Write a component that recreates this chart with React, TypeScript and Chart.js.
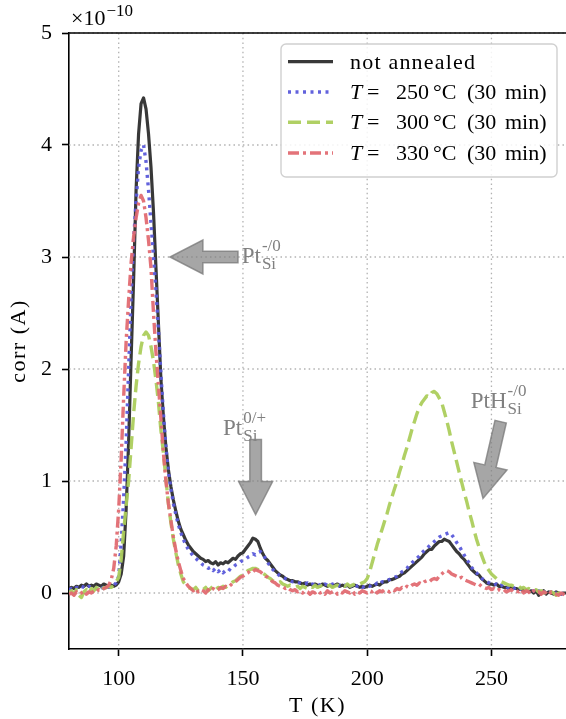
import React, { useEffect, useRef } from "react";
import { Chart, registerables } from "chart.js";

Chart.register(...registerables);

// Temperature axis (K)
const temps = [
  80, 81, 82, 83, 84, 85, 86, 87, 88, 89,
  90, 91, 92, 93, 94, 95, 96, 97, 98, 99,
  100, 101, 102, 103, 104, 105, 106, 107, 108, 109,
  110, 111, 112, 113, 114, 115, 116, 117, 118, 119,
  120, 121, 122, 123, 124, 125, 126, 127, 128, 129,
  130, 131, 132, 133, 134, 135, 136, 137, 138, 139,
  140, 141, 142, 143, 144, 145, 146, 147, 148, 149,
  150, 151, 152, 153, 154, 155, 156, 157, 158, 159,
  160, 161, 162, 163, 164, 165, 166, 167, 168, 169,
  170, 171, 172, 173, 174, 175, 176, 177, 178, 179,
  180, 181, 182, 183, 184, 185, 186, 187, 188, 189,
  190, 191, 192, 193, 194, 195, 196, 197, 198, 199,
  200, 201, 202, 203, 204, 205, 206, 207, 208, 209,
  210, 211, 212, 213, 214, 215, 216, 217, 218, 219,
  220, 221, 222, 223, 224, 225, 226, 227, 228, 229,
  230, 231, 232, 233, 234, 235, 236, 237, 238, 239,
  240, 241, 242, 243, 244, 245, 246, 247, 248, 249,
  250, 251, 252, 253, 254, 255, 256, 257, 258, 259,
  260, 261, 262, 263, 264, 265, 266, 267, 268, 269,
  270, 271, 272, 273, 274, 275, 276, 277, 278, 279,
  280,
];

// Currents in units of 1e-10 A
const notAnnealed = [
  0.04, 0.05, 0.04, 0.06, 0.05, 0.07, 0.06, 0.08, 0.06, 0.07,
  0.06, 0.08, 0.07, 0.06, 0.08, 0.07, 0.06, 0.07, 0.06, 0.07,
  0.1, 0.17, 0.33, 0.75, 1.35, 2.1, 2.8, 3.6, 4.1, 4.37,
  4.42, 4.32, 4.1, 3.8, 3.4, 2.9, 2.4, 1.9, 1.57, 1.3,
  1.1, 0.95, 0.83, 0.73, 0.64, 0.57, 0.52, 0.47, 0.43, 0.4,
  0.37, 0.35, 0.33, 0.31, 0.3, 0.28, 0.29, 0.27, 0.26, 0.28,
  0.25, 0.27, 0.26, 0.28, 0.27, 0.29, 0.31, 0.3, 0.33, 0.35,
  0.36, 0.39, 0.42, 0.45, 0.49, 0.48, 0.46, 0.4, 0.35, 0.31,
  0.29, 0.26, 0.23, 0.2, 0.18, 0.16, 0.15, 0.13, 0.12, 0.11,
  0.11, 0.1, 0.1, 0.09, 0.08, 0.09, 0.07, 0.08, 0.07, 0.08,
  0.07, 0.06, 0.08, 0.07, 0.06, 0.07, 0.06, 0.07, 0.08, 0.06,
  0.07, 0.06, 0.07, 0.05, 0.06, 0.07, 0.06, 0.05, 0.06, 0.05,
  0.06, 0.07, 0.06, 0.07, 0.08, 0.07, 0.09, 0.1, 0.1, 0.12,
  0.12, 0.13, 0.14, 0.15, 0.17, 0.18, 0.2, 0.22, 0.24, 0.26,
  0.28, 0.3, 0.32, 0.35, 0.37, 0.39, 0.39, 0.42, 0.44, 0.46,
  0.46, 0.48, 0.47, 0.46, 0.43, 0.4, 0.37, 0.35, 0.32, 0.3,
  0.27, 0.24, 0.21, 0.19, 0.17, 0.16, 0.13, 0.11, 0.09, 0.08,
  0.08, 0.07, 0.08, 0.06, 0.06, 0.05, 0.05, 0.04, 0.05, 0.04,
  0.04, 0.03, 0.04, 0.02, 0.03, 0.01, 0.02, 0.0, 0.02, -0.02,
  0.0, 0.02, -0.01, 0.01, 0.0, -0.01, 0.01, 0.0, -0.01, 0.0,
  0.0,
];

const anneal250 = [
  0.03, 0.04, 0.03, 0.05, 0.04, 0.06, 0.05, 0.04, 0.06, 0.05,
  0.05, 0.04, 0.06, 0.05, 0.04, 0.06, 0.05, 0.06, 0.07, 0.09,
  0.15, 0.45, 0.85, 1.35, 2.0, 2.65, 3.15, 3.5, 3.8, 3.95,
  4.0, 3.85, 3.6, 3.3, 3.0, 2.7, 2.35, 1.95, 1.6, 1.3,
  1.08, 0.93, 0.8, 0.7, 0.61, 0.54, 0.48, 0.43, 0.39, 0.36,
  0.33, 0.31, 0.29, 0.27, 0.25, 0.24, 0.22, 0.23, 0.2, 0.22,
  0.19, 0.21, 0.18, 0.2, 0.19, 0.22, 0.23, 0.25, 0.26, 0.28,
  0.29, 0.3, 0.32, 0.33, 0.35, 0.34, 0.36, 0.37, 0.35, 0.31,
  0.27, 0.24, 0.21, 0.19, 0.17, 0.15, 0.14, 0.13, 0.12, 0.11,
  0.1, 0.1, 0.09, 0.09, 0.08, 0.08, 0.09, 0.07, 0.08, 0.07,
  0.08, 0.07, 0.06, 0.08, 0.07, 0.06, 0.08, 0.07, 0.06, 0.07,
  0.06, 0.07, 0.06, 0.08, 0.05, 0.07, 0.06, 0.07, 0.05, 0.06,
  0.07, 0.06, 0.08, 0.07, 0.09, 0.08, 0.1, 0.1, 0.11, 0.12,
  0.13, 0.14, 0.15, 0.17, 0.19, 0.2, 0.22, 0.25, 0.27, 0.29,
  0.31, 0.33, 0.36, 0.38, 0.4, 0.42, 0.44, 0.46, 0.48, 0.5,
  0.51, 0.52, 0.53, 0.54, 0.52, 0.49, 0.45, 0.42, 0.38, 0.34,
  0.3, 0.27, 0.23, 0.2, 0.18, 0.15, 0.13, 0.12, 0.1, 0.09,
  0.08, 0.07, 0.08, 0.06, 0.07, 0.05, 0.06, 0.04, 0.05, 0.04,
  0.05, 0.03, 0.04, 0.03, 0.02, 0.03, 0.01, 0.02, 0.0, 0.02,
  0.01, -0.01, 0.02, 0.0, 0.01, -0.02, 0.0, 0.01, -0.01, 0.0,
  -0.01,
];

const anneal300 = [
  0.0, 0.02, -0.01, 0.03, -0.02, -0.04, 0.01, 0.03, 0.0, 0.04,
  0.02, 0.05, 0.03, 0.06, 0.04, 0.05, 0.06, 0.05, 0.07, 0.1,
  0.14, 0.3, 0.55, 0.78, 1.0, 1.3, 1.6, 1.85, 2.05, 2.2,
  2.3, 2.33, 2.3, 2.2, 2.07, 1.9, 1.7, 1.45, 1.25, 1.02,
  0.8, 0.63, 0.48, 0.36, 0.25, 0.17, 0.1, 0.07, 0.05, 0.04,
  0.03, 0.05, 0.02, 0.04, 0.03, 0.05, 0.02, 0.04, 0.06, 0.03,
  0.05, 0.04, 0.06, 0.05, 0.07, 0.08, 0.1, 0.11, 0.13, 0.15,
  0.16, 0.18, 0.2, 0.21, 0.22, 0.22, 0.21, 0.2, 0.18, 0.16,
  0.14, 0.13, 0.11, 0.1, 0.09, 0.1, 0.08, 0.07, 0.06, 0.07,
  0.06, 0.05, 0.06, 0.04, 0.06, 0.05, 0.04, 0.06, 0.05, 0.07,
  0.05, 0.06, 0.07, 0.05, 0.06, 0.07, 0.05, 0.06, 0.07, 0.06,
  0.07, 0.06, 0.08, 0.06, 0.07, 0.08, 0.07, 0.08, 0.09, 0.1,
  0.13, 0.19, 0.27, 0.35, 0.43, 0.5, 0.57, 0.64, 0.71, 0.79,
  0.86, 0.93, 1.0, 1.08, 1.15, 1.23, 1.3, 1.38, 1.46, 1.53,
  1.6, 1.66, 1.7, 1.73, 1.76, 1.75, 1.79, 1.8, 1.78, 1.74,
  1.7, 1.62, 1.54, 1.45, 1.35, 1.26, 1.17, 1.08, 0.99, 0.9,
  0.82, 0.73, 0.65, 0.56, 0.48, 0.41, 0.34, 0.28, 0.23, 0.2,
  0.17, 0.15, 0.13, 0.11, 0.1, 0.09, 0.08, 0.07, 0.07, 0.06,
  0.05, 0.06, 0.04, 0.05, 0.03, 0.04, 0.03, 0.02, 0.03, 0.01,
  0.02, 0.0, 0.01, -0.01, 0.01, 0.0, -0.02, 0.0, -0.01, -0.02,
  -0.01,
];

const anneal330 = [
  -0.01, 0.0, -0.02, 0.01, -0.01, 0.0, 0.02, -0.01, 0.01, 0.0,
  0.02, 0.01, 0.03, 0.02, 0.04, 0.05, 0.07, 0.12, 0.22, 0.42,
  0.75, 1.2, 1.75, 2.25, 2.62, 2.95, 3.18, 3.35, 3.48, 3.55,
  3.5, 3.35, 3.15, 2.9, 2.5, 2.15, 1.85, 1.55, 1.25, 1.0,
  0.8, 0.65, 0.5, 0.38, 0.28, 0.2, 0.13, 0.09, 0.06, 0.04,
  0.02, 0.04, 0.01, 0.03, 0.02, 0.0, 0.03, 0.01, 0.04, 0.02,
  0.03, 0.05, 0.04, 0.06, 0.05, 0.07, 0.09, 0.1, 0.12, 0.14,
  0.15, 0.17, 0.18, 0.2, 0.19, 0.21, 0.2, 0.19, 0.17, 0.15,
  0.14, 0.12, 0.1, 0.09, 0.07, 0.06, 0.06, 0.04, 0.05, 0.03,
  0.02, 0.03, 0.01, 0.02, 0.0, 0.02, 0.01, -0.01, 0.01, 0.0,
  0.02, 0.0, 0.01, -0.01, 0.02, 0.0, 0.01, 0.02, -0.01, 0.01,
  0.0, 0.02, 0.01, 0.0, 0.02, -0.01, 0.01, 0.0, 0.02, 0.01,
  0.0, 0.02, 0.01, 0.03, 0.0, 0.02, 0.01, 0.03, 0.02, 0.01,
  0.03, 0.02, 0.04, 0.03, 0.05, 0.04, 0.06, 0.05, 0.07, 0.08,
  0.07, 0.09, 0.08, 0.1, 0.11, 0.1, 0.12, 0.13, 0.12, 0.15,
  0.17, 0.19, 0.2, 0.19, 0.17, 0.16, 0.15, 0.13, 0.14, 0.12,
  0.11, 0.1, 0.09, 0.08, 0.07, 0.08, 0.06, 0.05, 0.04, 0.05,
  0.03, 0.04, 0.02, 0.03, 0.02, 0.03, 0.01, 0.02, 0.03, 0.01,
  0.02, 0.01, 0.03, 0.0, 0.02, 0.01, -0.01, 0.02, 0.0, 0.01,
  -0.01, 0.01, 0.0, -0.02, 0.01, 0.0, -0.01, -0.02, 0.0, -0.01,
  -0.02,
];

const xTicks = [100, 150, 200, 250];
const yTicks = [0, 1, 2, 3, 4, 5];
const annealTemps = ["250", "300", "330"];

// Annotation arrows (data coordinates)
const arrows = [
  { tail: [148, 3.0], tip: [120.6, 3.0] },
  { tail: [155.1, 1.37], tip: [155.1, 0.7] },
  { tail: [253.7, 1.53], tip: [246.6, 0.845] },
];
const peakLabels = [
  { at: [149.5, 2.95], main: "Pt", sub: "Si", sup: "-/0" },
  { at: [142.0, 1.41], main: "Pt", sub: "Si", sup: "0/+" },
  { at: [241.7, 1.65], main: "PtH", sub: "Si", sup: "-/0" },
];

const FONT = "'Liberation Serif', 'Times New Roman', serif";

const styles = [
  { color: "rgba(45,45,45,0.95)", dash: [] as number[], width: 3.2 },
  { color: "rgba(90,90,218,0.95)", dash: [3, 4.5], width: 3.4 },
  { color: "rgba(172,206,92,0.95)", dash: [13, 6], width: 3.4 },
  { color: "rgba(226,108,114,0.95)", dash: [11, 4, 3, 4], width: 3.4 },
];

const decor = {
  id: "decor",
  beforeDatasetsDraw(chart: any) {
    const { ctx, chartArea: a, scales } = chart;
    const x = scales.x, y = scales.y;
    ctx.save();
    ctx.strokeStyle = "rgba(170,170,170,0.9)";
    ctx.lineWidth = 1.3;
    ctx.setLineDash([1.5, 3.2]);
    for (const t of xTicks) {
      const px = x.getPixelForValue(t);
      ctx.beginPath(); ctx.moveTo(px, a.top); ctx.lineTo(px, a.bottom); ctx.stroke();
    }
    for (const v of yTicks) {
      const py = y.getPixelForValue(v);
      ctx.beginPath(); ctx.moveTo(a.left, py); ctx.lineTo(a.right, py); ctx.stroke();
    }
    ctx.restore();
  },
  afterDatasetsDraw(chart: any) {
    const { ctx, chartArea: a, scales } = chart;
    const x = scales.x, y = scales.y;
    ctx.save();
    // arrows
    for (const ar of arrows) {
      const tx = x.getPixelForValue(ar.tail[0]), ty = y.getPixelForValue(ar.tail[1]);
      const hx = x.getPixelForValue(ar.tip[0]), hy = y.getPixelForValue(ar.tip[1]);
      const dx = hx - tx, dy = hy - ty, len = Math.hypot(dx, dy);
      const ux = dx / len, uy = dy / len, nx = -uy, ny = ux;
      const H = 33, hw = 17, sw = 5.8;
      const bx = hx - ux * H, by = hy - uy * H;
      ctx.beginPath();
      ctx.moveTo(tx + nx * sw, ty + ny * sw);
      ctx.lineTo(bx + nx * sw, by + ny * sw);
      ctx.lineTo(bx + nx * hw, by + ny * hw);
      ctx.lineTo(hx, hy);
      ctx.lineTo(bx - nx * hw, by - ny * hw);
      ctx.lineTo(bx - nx * sw, by - ny * sw);
      ctx.lineTo(tx - nx * sw, ty - ny * sw);
      ctx.closePath();
      ctx.fillStyle = "rgba(128,128,128,0.7)";
      ctx.fill();
      ctx.strokeStyle = "rgba(120,120,120,0.75)";
      ctx.lineWidth = 1.5;
      ctx.setLineDash([]);
      ctx.stroke();
    }
    // labels
    ctx.fillStyle = "rgb(128,128,128)";
    ctx.textBaseline = "alphabetic";
    ctx.textAlign = "left";
    for (const lb of peakLabels) {
      const px = x.getPixelForValue(lb.at[0]), py = y.getPixelForValue(lb.at[1]);
      ctx.font = `23px ${FONT}`;
      ctx.fillText(lb.main, px, py);
      const w = ctx.measureText(lb.main).width;
      ctx.font = `17px ${FONT}`;
      ctx.fillText(lb.sub, px + w + 1, py + 6);
      ctx.fillText(lb.sup, px + w + 1, py - 12);
    }
    // top spine
    ctx.strokeStyle = "#000";
    ctx.lineWidth = 1.6;
    ctx.beginPath(); ctx.moveTo(a.left - 0.8, a.top); ctx.lineTo(a.right, a.top); ctx.stroke();

    // legend
    const lx = 281, ly = 44, lw = 276, lh = 133, r = 5;
    ctx.beginPath();
    ctx.moveTo(lx + r, ly);
    ctx.arcTo(lx + lw, ly, lx + lw, ly + lh, r);
    ctx.arcTo(lx + lw, ly + lh, lx, ly + lh, r);
    ctx.arcTo(lx, ly + lh, lx, ly, r);
    ctx.arcTo(lx, ly, lx + lw, ly, r);
    ctx.closePath();
    ctx.fillStyle = "rgba(255,255,255,0.85)";
    ctx.fill();
    ctx.strokeStyle = "rgb(208,208,208)";
    ctx.lineWidth = 1.4;
    ctx.stroke();
    const rows = [61.7, 92, 122.3, 153];
    rows.forEach((cy, i) => {
      const s = styles[i];
      ctx.strokeStyle = s.color;
      ctx.lineWidth = s.width;
      ctx.setLineDash(s.dash);
      ctx.beginPath(); ctx.moveTo(288, cy); ctx.lineTo(333, cy); ctx.stroke();
      ctx.setLineDash([]);
      ctx.fillStyle = "#000";
      const base = cy + 7;
      if (i === 0) {
        ctx.font = `22px ${FONT}`;
        (ctx as any).letterSpacing = "1.2px";
        ctx.fillText("not annealed", 350, base);
        (ctx as any).letterSpacing = "0px";
      } else {
        ctx.font = `italic 22px ${FONT}`;
        ctx.fillText("T", 350, base);
        ctx.font = `22px ${FONT}`;
        ctx.fillText("=", 367, base);
        ctx.fillText(annealTemps[i - 1], 396, base);
        ctx.fillText("°C", 433, base);
        ctx.fillText("(30", 467, base);
        ctx.fillText("min)", 505, base);
      }
    });
    ctx.restore();
  },
  afterDraw(chart: any) {
    const { ctx, chartArea: a } = chart;
    ctx.save();
    ctx.fillStyle = "#000";
    // offset text
    ctx.textBaseline = "alphabetic";
    ctx.textAlign = "left";
    ctx.font = `22px ${FONT}`;
    ctx.fillText("×10", 71, 25);
    const w = ctx.measureText("×10").width;
    ctx.font = `17px ${FONT}`;
    ctx.fillText("\u221210", 71 + w + 1, 16);
    // axis titles
    ctx.font = `22px ${FONT}`;
    (ctx as any).letterSpacing = "1.5px";
    ctx.textAlign = "center";
    ctx.textBaseline = "middle";
    ctx.fillText("T (K)", (a.left + a.right) / 2, 706);
    ctx.translate(19, (a.top + a.bottom) / 2);
    ctx.rotate(-Math.PI / 2);
    ctx.fillText("corr (A)", 0, 0);
    (ctx as any).letterSpacing = "0px";
    ctx.restore();
  },
};

export default function App() {
  const ref = useRef<HTMLCanvasElement | null>(null);
  useEffect(() => {
    if (!ref.current) return;
    const series = [notAnnealed, anneal250, anneal300, anneal330];
    const names = ["not annealed", "T = 250 °C (30 min)", "T = 300 °C (30 min)", "T = 330 °C (30 min)"];
    const chart = new Chart(ref.current, {
      type: "line",
      data: {
        datasets: series.map((vals, i) => ({
          label: names[i],
          data: temps.map((t, j) => ({ x: t, y: vals[j] })),
          borderColor: styles[i].color,
          borderWidth: styles[i].width,
          borderDash: styles[i].dash,
          borderCapStyle: "butt",
          borderJoinStyle: "round",
          pointRadius: 0,
          fill: false,
          tension: 0,
          order: 3 - i,
        })),
      },
      options: {
        responsive: false,
        devicePixelRatio: 1,
        animation: false,
        events: [],
        layout: { padding: { top: 33, right: 0, left: 0, bottom: 0 } },
        plugins: { legend: { display: false }, tooltip: { enabled: false } },
        scales: {
          x: {
            type: "linear",
            min: 80,
            max: 280,
            afterBuildTicks: (s: any) => { s.ticks = xTicks.map((v) => ({ value: v })); },
            afterFit: (s: any) => { s.height = 70; },
            ticks: { color: "#000", font: { family: FONT, size: 22 }, padding: 10, maxRotation: 0 },
            grid: { drawOnChartArea: false, color: "rgba(0,0,0,0)", tickColor: "#000", tickWidth: 1.6, tickLength: 7 },
            border: { display: true, color: "#000", width: 1.6 },
          },
          y: {
            type: "linear",
            min: -0.5,
            max: 5,
            afterBuildTicks: (s: any) => { s.ticks = yTicks.map((v) => ({ value: v })); },
            afterFit: (s: any) => { s.width = 69; },
            ticks: { color: "#000", font: { family: FONT, size: 22 }, padding: 10, callback: (v: any) => String(v) },
            grid: { drawOnChartArea: false, color: "rgba(0,0,0,0)", tickColor: "#000", tickWidth: 1.6, tickLength: 7 },
            border: { display: true, color: "#000", width: 1.6 },
          },
        },
      },
      plugins: [decor],
    } as any);
    return () => chart.destroy();
  }, []);
  return (
    <div style={{ position: "fixed", left: 0, top: 0, width: 566, height: 719, background: "#fff" }}>
      <canvas ref={ref} width={566} height={719} style={{ width: 566, height: 719, display: "block" }} />
    </div>
  );
}
